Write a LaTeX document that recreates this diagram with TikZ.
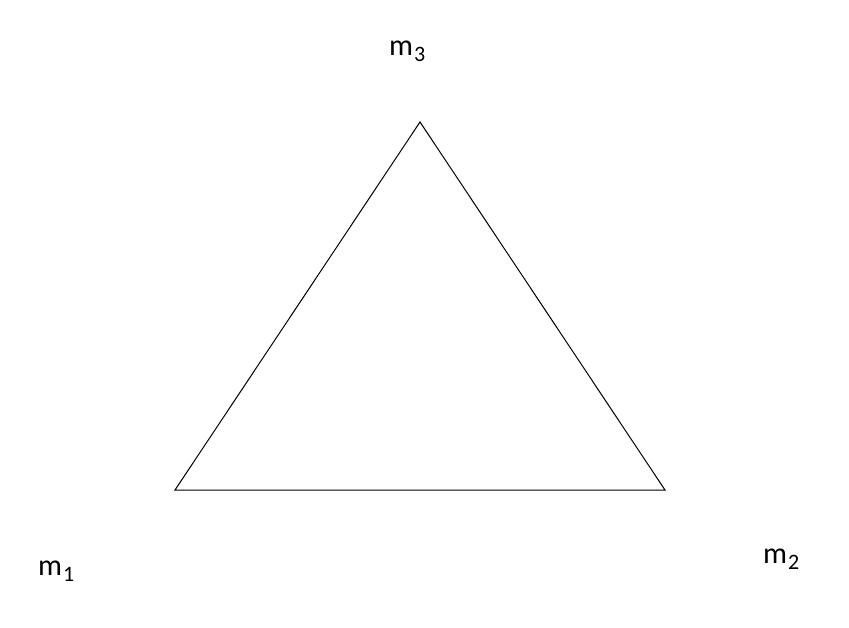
\documentclass[tikz,border=0pt]{standalone}
\usepackage{fontspec}
\setmainfont{Carlito}
\begin{document}
\begin{tikzpicture}[x=1pt,y=-1pt,
  lbl/.style={anchor=base west,inner sep=0pt,font=\fontsize{30}{30}\selectfont},
  edge/.style={draw=black,line width=1pt}]
\newcommand{\msub}[1]{m\hspace{1pt}\raisebox{-6pt}{\fontsize{22}{22}\selectfont #1}}
\useasboundingbox (0,0) rectangle (849,627);
\coordinate (v1) at (175,490);
\coordinate (v2) at (665,490);
\coordinate (v3) at (420,122);
\draw[edge,line join=miter] (v1) -- (v2) -- (v3) -- cycle;
\node[lbl] (m3) at (389,55) {\msub{3}};
\node[lbl] (m1) at (38,575) {\msub{1}};
\node[lbl] (m2) at (763,563) {\msub{2}};
\end{tikzpicture}
\end{document}
